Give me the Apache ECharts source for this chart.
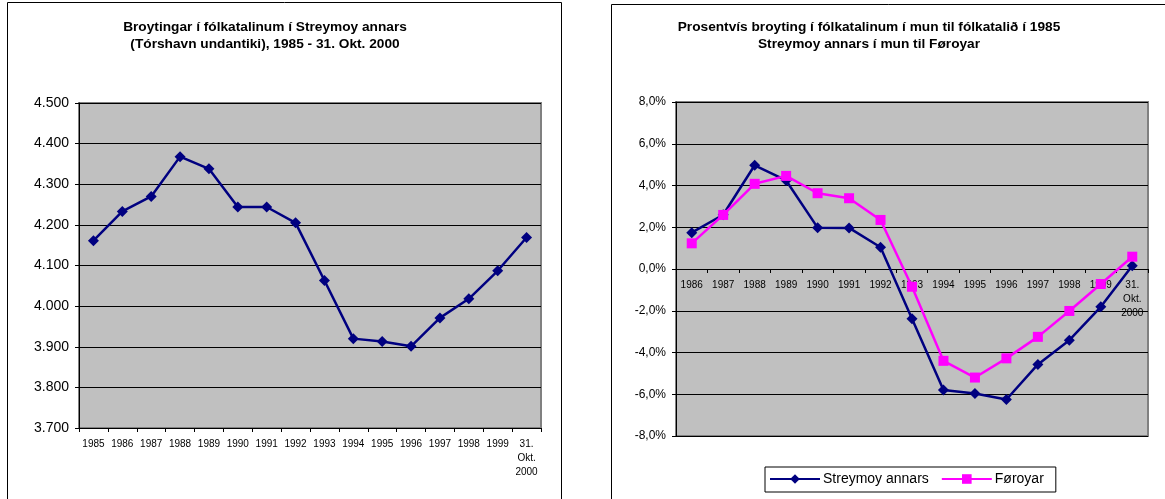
<!DOCTYPE html>
<html><head><meta charset="utf-8">
<script src="https://cdn.jsdelivr.net/npm/echarts@6/dist/echarts.min.js"></script>
<style>html,body{margin:0;padding:0;background:#fff}#c{width:1165px;height:499px}</style>
</head><body><div id="c"></div>
<script>
const leftCategories = ['1985','1986','1987','1988','1989','1990','1991','1992','1993','1994','1995','1996','1997','1998','1999','31.\nOkt.\n2000'];
const leftValues = [4161,4233,4270,4368,4338,4244,4244,4205,4063,3920,3913,3901,3971,4018,4087,4169];
const leftTicks = [3700,3800,3900,4000,4100,4200,4300,4400,4500];

const rightCategories = ['1986','1987','1988','1989','1990','1991','1992','1993','1994','1995','1996','1997','1998','1999','31.\nOkt.\n2000'];
const streymoyPct = [1.74,2.6,4.97,4.24,1.98,1.97,1.04,-2.38,-5.80,-5.96,-6.25,-4.57,-3.41,-1.81,0.16];
const foroyarPct = [1.23,2.59,4.08,4.46,3.63,3.39,2.35,-0.85,-4.40,-5.20,-4.28,-3.25,-2.01,-0.72,0.59];
const rightTicks = [-8,-6,-4,-2,0,2,4,6,8];

const leftTitle = 'Broytingar í fólkatalinum í Streymoy annars\n(Tórshavn undantiki), 1985 - 31. Okt. 2000';
const rightTitle = 'Prosentvís broyting í fólkatalinum í mun til fólkatalið í 1985\nStreymoy annars í mun til Føroyar';

const FONT = '"Liberation Sans", Arial, sans-serif';
const RIGHT_GRID_H = 334;
const chart = echarts.init(document.getElementById('c'));
chart.setOption({
  animation: false,
  textStyle: {fontFamily: FONT, color: '#000'},
  graphic: [
    {type:'rect', shape:{x:7.5,y:2.5,width:554,height:520}, style:{fill:'none', stroke:'#000', lineWidth:1}, z:-10},
    {type:'rect', shape:{x:611.5,y:4.5,width:600,height:520}, style:{fill:'none', stroke:'#000', lineWidth:1}, z:-10}
  ],
  title: [
    {text: leftTitle, left: 260, top: 14, textAlign: 'center',
     textStyle:{fontSize:13.7, fontWeight:'bold', fontFamily: FONT, lineHeight:17, color:'#000'}},
    {text: rightTitle, left: 864, top: 14, textAlign: 'center',
     textStyle:{fontSize:13.7, fontWeight:'bold', fontFamily: FONT, lineHeight:17, color:'#000'}}
  ],
  legend: {
    data: ['Streymoy annars','Føroyar'],
    left: 765, top: 467, width: 300,
    itemWidth: 50, itemHeight: 12, itemGap: 12,
    padding: [5, 12, 6, 4],
    borderColor: '#000', borderWidth: 1, backgroundColor:'#fff',
    textStyle: {fontSize: 14, fontFamily: FONT, color:'#000', padding:[0,0,0,-2]}
  },
  grid: [
    {left: 79, top: 103, width: 462, height: 325, show: true, backgroundColor: '#C0C0C0', borderColor: '#808080', borderWidth: 2},
    {left: 676, top: 102, width: 472, height: RIGHT_GRID_H, show: true, backgroundColor: '#C0C0C0', borderColor: '#808080', borderWidth: 2}
  ],
  xAxis: [
    {type:'category', gridIndex:0, data: leftCategories, boundaryGap: true,
     axisLine:{lineStyle:{color:'#000', width:1}},
     axisTick:{show:true, alignWithLabel:false, length:4, lineStyle:{color:'#000'}},
     axisLabel:{fontSize:10, fontFamily: FONT, color:'#000', margin:9, lineHeight:14, interval:0}},
    {type:'category', gridIndex:1, data: rightCategories, boundaryGap: true,
     offset: -RIGHT_GRID_H/2,
     axisLine:{onZero:false, lineStyle:{color:'#000', width:1}},
     axisTick:{show:true, length:4, lineStyle:{color:'#000'}},
     axisLabel:{fontSize:10, fontFamily: FONT, color:'#000', margin:9, lineHeight:14, interval:0}}
  ],
  yAxis: [
    {type:'value', gridIndex:0, min: leftTicks[0], max: leftTicks[leftTicks.length-1], interval: 100,
     axisLine:{show:true, lineStyle:{color:'#000'}},
     axisTick:{show:true, length:4, lineStyle:{color:'#000'}},
     splitLine:{show:true, lineStyle:{color:'#000', width:1}},
     axisLabel:{fontSize:14, fontFamily: FONT, color:'#000', margin:10,
       formatter: v => (v/1000).toFixed(3)}},
    {type:'value', gridIndex:1, min: rightTicks[0], max: rightTicks[rightTicks.length-1], interval: 2,
     axisLine:{show:true, onZero:false, lineStyle:{color:'#000'}},
     axisTick:{show:true, length:4, lineStyle:{color:'#000'}},
     splitLine:{show:true, lineStyle:{color:'#000', width:1}},
     axisLabel:{fontSize:12, fontFamily: FONT, color:'#000', margin:10,
       formatter: v => v.toFixed(1).replace('.', ',') + '%'}}
  ],
  series: [
    {name:'Fólkatal', type:'line', xAxisIndex:0, yAxisIndex:0, data: leftValues,
     symbol:'diamond', symbolSize:11, lineStyle:{color:'#000080', width:2.5},
     itemStyle:{color:'#000080'}},
    {name:'Streymoy annars', type:'line', xAxisIndex:1, yAxisIndex:1, data: streymoyPct,
     symbol:'diamond', symbolSize:11, lineStyle:{color:'#000080', width:2.5},
     itemStyle:{color:'#000080'}},
    {name:'Føroyar', type:'line', xAxisIndex:1, yAxisIndex:1, data: foroyarPct,
     symbol:'rect', symbolSize:10, lineStyle:{color:'#FF00FF', width:2.5},
     itemStyle:{color:'#FF00FF'}}
  ]
});
</script></body></html>
